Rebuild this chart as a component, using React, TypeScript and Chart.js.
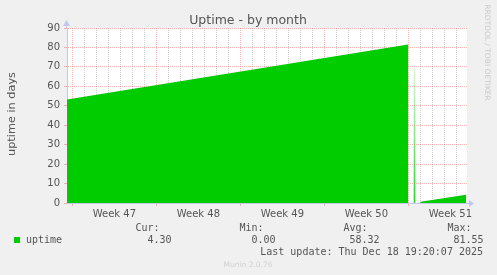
import React, { useEffect, useRef } from 'react';
import { Chart, registerables } from 'chart.js';

Chart.register(...registerables);

// ---- data ----
const uptimeDays = [0, 28.42, 28.42, 29.46, 29.46, 33.25];
const uptimeValues = [53.2, 81.55, 0, 0, 0.6, 4.3];
const spikeDays = [28.96];
const spikeValues = [69.5];
const weekNumbers = [47, 48, 49, 50, 51];
const firstMonday = 0.45; // day offset of the first week boundary
const rangeDays = 33.333;
const yMax = 90;
const yStep = 5;
const legendHeaders = ['Cur:', 'Min:', 'Avg:', 'Max:'];
const legendValues = ['4.30', '0.00', '58.32', '81.55'];
const seriesName = 'uptime';
const titleText = 'Uptime - by month';
const yAxisTitle = 'uptime in days';
const lastUpdate = 'Last update: Thu Dec 18 19:20:07 2025';
const versionText = 'Munin 2.0.76';
const sideText = 'RRDTOOL / TOBI OETIKER';

const GREEN = '#00cc00';
const MINOR = 'rgba(175,175,175,0.6)';
const MAJOR = 'rgba(230,110,110,0.5)';
const AXIS = '#c4c8ee';
const TEXT = '#555555';
const SANS = '"DejaVu Sans", sans-serif';
const MONO = '"DejaVu Sans Mono", monospace';

const near = (a: number, b: number) => Math.abs(a - b) < 1e-6;
const weekIndexOfLabel = (v: number) =>
  weekNumbers.findIndex((_, i) => near(v, firstMonday + 3.5 + 7 * i));
const isMajorX = (v: number) => {
  const r = (((v - firstMonday) % 7) + 7) % 7;
  return near(r, 0) || near(r, 7);
};
const isLabelX = (v: number) => weekIndexOfLabel(v) >= 0;

const decorPlugin = {
  id: 'decor',
  beforeDraw(chart: any) {
    const { ctx, chartArea: a } = chart;
    ctx.save();
    ctx.fillStyle = '#f0f0f0';
    ctx.fillRect(0, 0, chart.width, chart.height);
    ctx.fillStyle = '#ffffff';
    ctx.fillRect(a.left, a.top, a.right - a.left, a.bottom - a.top);
    ctx.restore();
  },
  afterDraw(chart: any) {
    const { ctx, chartArea: a } = chart;
    ctx.save();
    // axis arrows
    ctx.fillStyle = AXIS;
    ctx.strokeStyle = AXIS;
    ctx.lineWidth = 1;
    ctx.beginPath();
    ctx.moveTo(a.right, a.bottom + 0.5);
    ctx.lineTo(a.right + 3, a.bottom + 0.5);
    ctx.stroke();
    ctx.beginPath();
    ctx.moveTo(a.right + 7, a.bottom + 0.5);
    ctx.lineTo(a.right + 2, a.bottom - 3);
    ctx.lineTo(a.right + 2, a.bottom + 4);
    ctx.closePath();
    ctx.fill();
    ctx.beginPath();
    ctx.moveTo(a.left - 0.5, a.top - 8);
    ctx.lineTo(a.left - 4, a.top - 2);
    ctx.lineTo(a.left + 3, a.top - 2);
    ctx.closePath();
    ctx.fill();
    ctx.beginPath();
    ctx.moveTo(a.left - 0.5, a.top - 2);
    ctx.lineTo(a.left - 0.5, a.top);
    ctx.stroke();

    // title
    ctx.fillStyle = TEXT;
    ctx.font = `12.5px ${SANS}`;
    ctx.textAlign = 'center';
    ctx.textBaseline = 'alphabetic';
    ctx.fillText(titleText, 248, 23.5);

    // y axis title
    ctx.save();
    ctx.translate(14.8, 114);
    ctx.rotate(-Math.PI / 2);
    ctx.font = `11.3px ${SANS}`;
    ctx.textAlign = 'center';
    ctx.fillText(yAxisTitle, 0, 0);
    ctx.restore();

    // side text
    ctx.save();
    ctx.translate(484.5, 52.5);
    ctx.rotate(Math.PI / 2);
    ctx.font = `7.5px ${SANS}`;
    ctx.fillStyle = '#cacaca';
    ctx.textAlign = 'center';
    ctx.fillText(sideText, 0, 0);
    ctx.restore();

    // legend
    ctx.fillStyle = GREEN;
    ctx.fillRect(14, 237, 6, 6);
    ctx.fillStyle = TEXT;
    ctx.font = `10px ${MONO}`;
    ctx.textAlign = 'left';
    ctx.fillText(seriesName, 26, 243);
    ctx.textAlign = 'right';
    legendHeaders.forEach((h, i) => ctx.fillText(h, 159.5 + 104 * i, 231));
    legendValues.forEach((v, i) => ctx.fillText(v, 171.5 + 104 * i, 243));
    ctx.fillText(lastUpdate, 483, 255);

    // version
    ctx.fillStyle = '#d0d0d0';
    ctx.font = `7.5px ${SANS}`;
    ctx.textAlign = 'center';
    ctx.fillText(versionText, 248, 266.5);
    ctx.restore();
  },
};

export default function App() {
  const ref = useRef<HTMLCanvasElement>(null);

  useEffect(() => {
    if (!ref.current) return;
    const chart = new Chart(ref.current, {
      type: 'line',
      data: {
        datasets: [
          {
            type: 'line',
            label: seriesName,
            data: uptimeDays.map((d, i) => ({ x: d, y: uptimeValues[i] })),
            backgroundColor: GREEN,
            borderColor: 'rgba(0,0,0,0)',
            borderWidth: 0,
            pointRadius: 0,
            pointHoverRadius: 0,
            pointBorderWidth: 0,
            fill: 'origin',
            tension: 0,
          },
          {
            type: 'bar',
            label: 'spike',
            data: spikeDays.map((d, i) => ({ x: d, y: spikeValues[i] })),
            barThickness: 1,
            backgroundColor: (c: any) => {
              const ch = c.chart;
              const a = ch.chartArea;
              if (!a) return 'rgba(0,204,0,0.5)';
              const top = ch.scales.y.getPixelForValue(spikeValues[0]);
              const g = ch.ctx.createLinearGradient(0, top, 0, a.bottom);
              g.addColorStop(0, 'rgba(0,204,0,0.15)');
              g.addColorStop(0.5, 'rgba(0,204,0,0.45)');
              g.addColorStop(1, 'rgba(0,204,0,0.85)');
              return g;
            },
          } as any,
        ],
      },
      options: {
        animation: false,
        responsive: false,
        devicePixelRatio: 1,
        layout: { autoPadding: false, padding: { top: 28, right: 30, bottom: 0, left: 0 } },
        plugins: {
          legend: { display: false },
          title: { display: false },
          tooltip: { enabled: false },
        },
        scales: {
          x: {
            type: 'linear',
            min: 0,
            max: rangeDays,
            offset: false,
            z: 1,
            afterFit: (s: any) => {
              s.height = 72;
            },
            afterBuildTicks: (s: any) => {
              const t: { value: number }[] = [];
              for (let d = 0; firstMonday + d < rangeDays; d++) t.push({ value: firstMonday + d });
              weekNumbers.forEach((_, i) => t.push({ value: firstMonday + 3.5 + 7 * i }));
              t.sort((p, q) => p.value - q.value);
              s.ticks = t;
            },
            ticks: {
              autoSkip: false,
              maxRotation: 0,
              minRotation: 0,
              padding: 2,
              color: TEXT,
              font: { family: SANS, size: 10 },
              callback: (v: any) => {
                const i = weekIndexOfLabel(Number(v));
                return i >= 0 ? `Week ${weekNumbers[i]}` : '';
              },
            },
            grid: {
              offset: false,
              color: (c: any) => {
                const v = c.tick ? c.tick.value : 0;
                if (isLabelX(v)) return 'rgba(0,0,0,0)';
                return isMajorX(v) ? MAJOR : MINOR;
              },
              tickColor: (c: any) => {
                const v = c.tick ? c.tick.value : 0;
                return isMajorX(v) && !isLabelX(v) ? MAJOR : 'rgba(0,0,0,0)';
              },
              tickLength: 3,
              tickBorderDash: [],
              lineWidth: 1,
            },
            border: { display: true, color: AXIS, width: 1, dash: [1, 1] },
          },
          y: {
            type: 'linear',
            min: 0,
            max: yMax,
            z: 1,
            afterFit: (s: any) => {
              s.width = 67;
            },
            ticks: {
              stepSize: yStep,
              padding: 4,
              color: TEXT,
              font: { family: SANS, size: 10 },
              callback: (v: any) => (Number(v) % 10 === 0 ? String(v) : ''),
            },
            grid: {
              color: (c: any) => {
                const v = c.tick ? c.tick.value : 0;
                return v % 10 === 0 ? MAJOR : MINOR;
              },
              tickColor: (c: any) => {
                const v = c.tick ? c.tick.value : 0;
                return v % 10 === 0 ? MAJOR : 'rgba(0,0,0,0)';
              },
              tickLength: 3,
              tickBorderDash: [],
              lineWidth: 1,
            },
            border: { display: true, color: AXIS, width: 1, dash: [1, 1] },
          },
        },
      },
      plugins: [decorPlugin],
    } as any);
    return () => chart.destroy();
  }, []);

  return (
    <div style={{ position: 'absolute', left: 0, top: 0, width: 497, height: 275 }}>
      <canvas ref={ref} width={497} height={275} style={{ display: 'block' }} />
    </div>
  );
}
